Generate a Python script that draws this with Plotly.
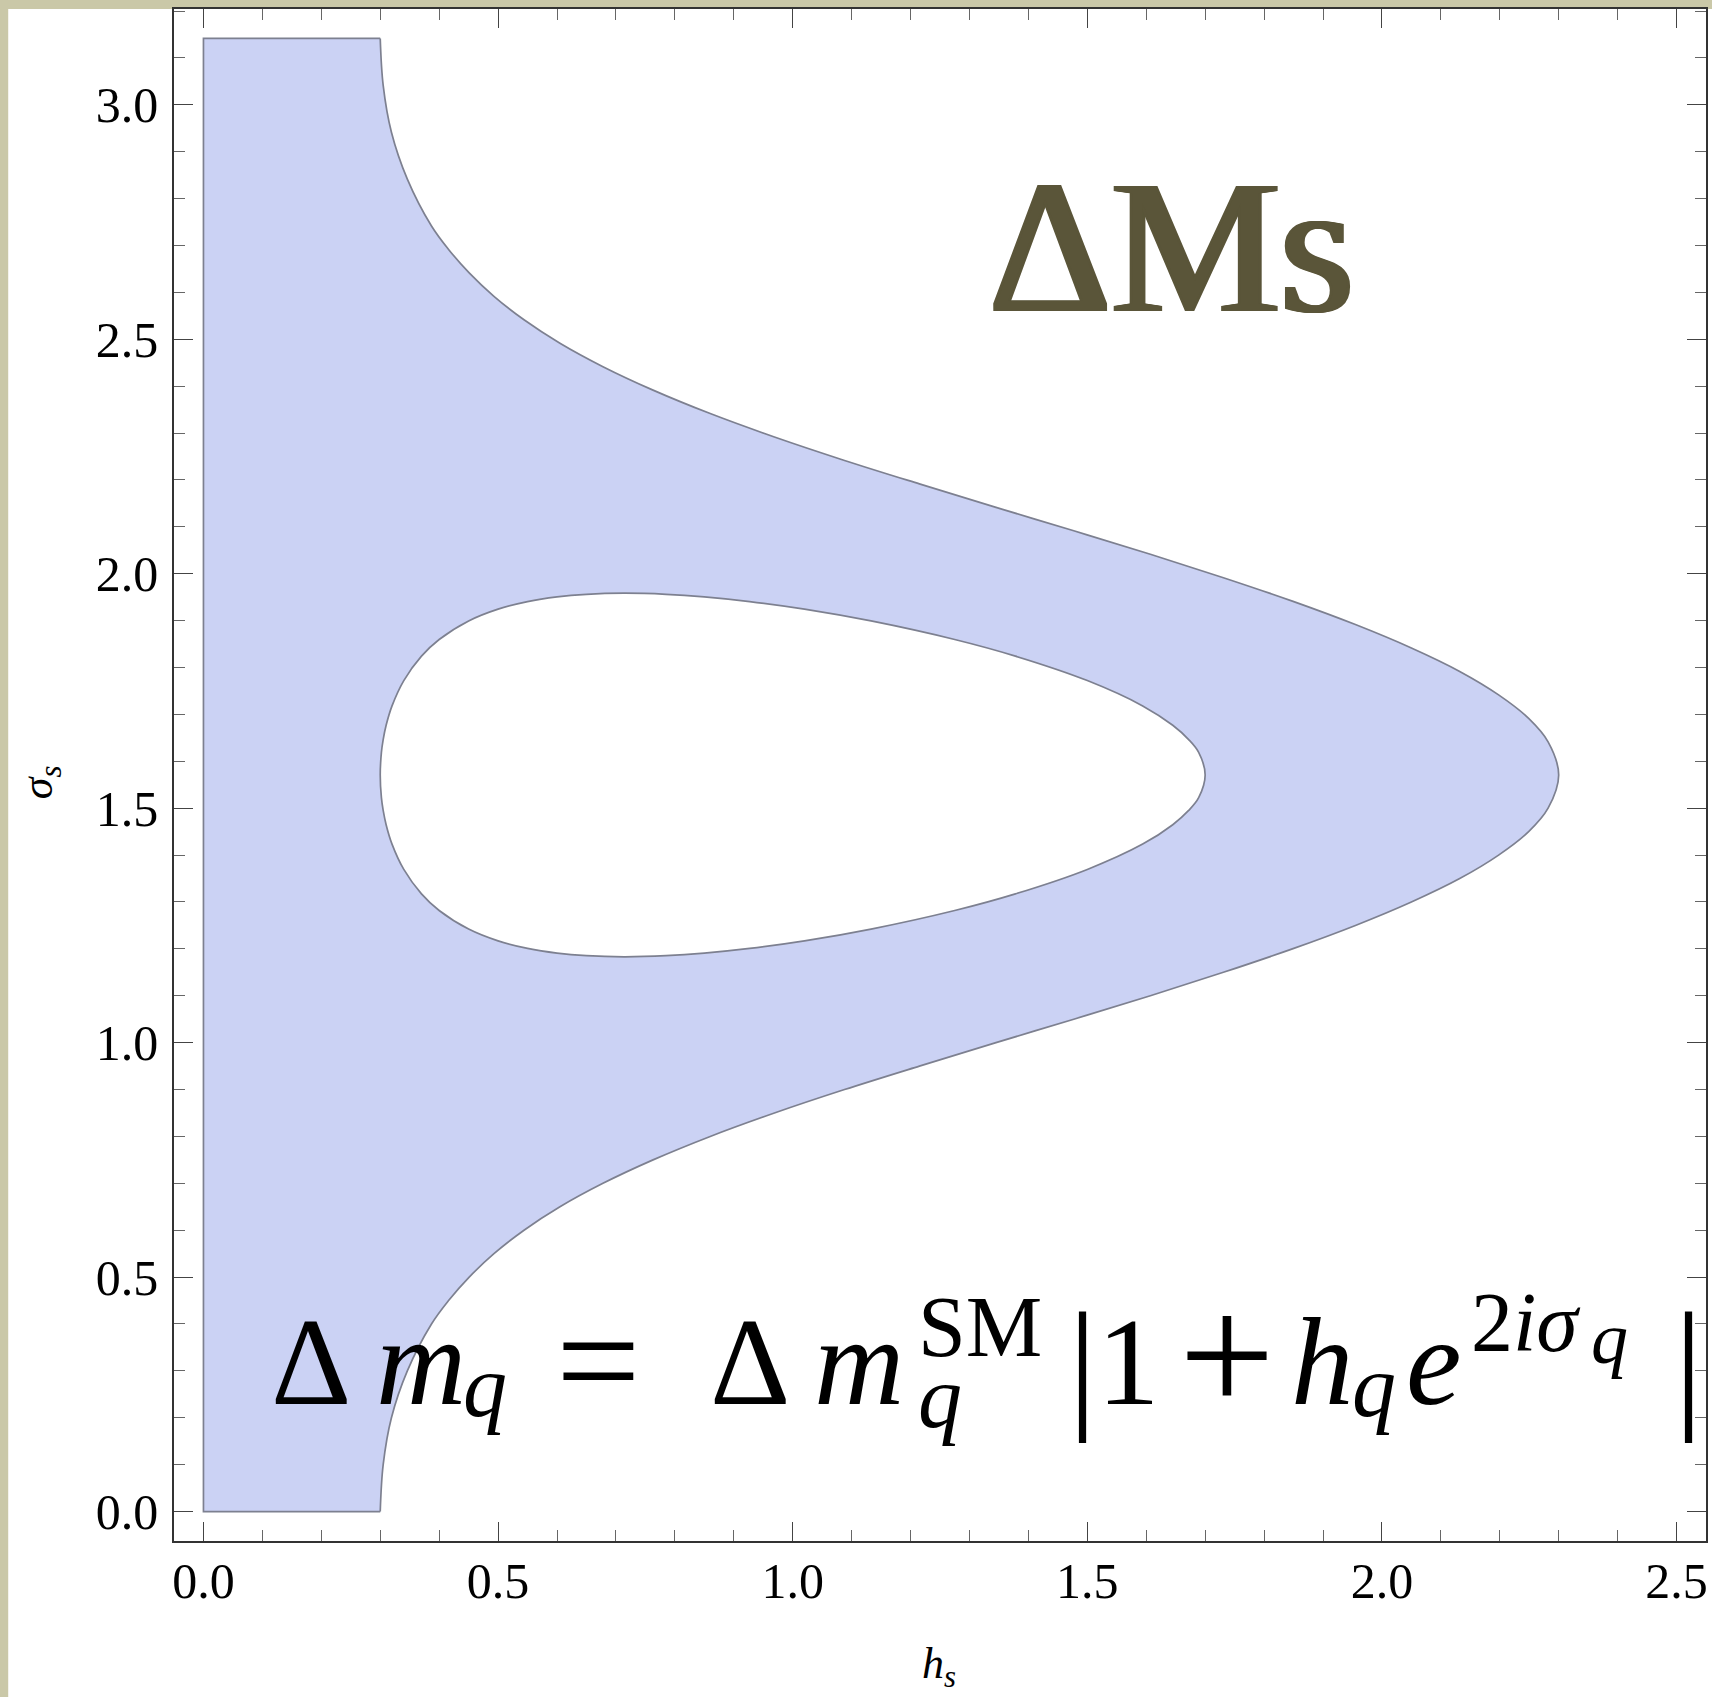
import plotly.graph_objects as go

# ---- data ----
# outer boundary of the allowed region, lower half (sigma_s from 0 to pi/2)
outer_sigma_lower = [0.0, 0.1, 0.2, 0.3, 0.4, 0.45, 0.5, 0.55, 0.6, 0.65, 0.7, 0.75, 0.8, 0.85, 0.9, 0.95,
                     1.0, 1.05, 1.1, 1.15, 1.2, 1.25, 1.3, 1.35, 1.4, 1.45, 1.5, 1.5708]
outer_h_lower = [0.300, 0.305, 0.319, 0.346, 0.387, 0.416, 0.451, 0.493, 0.544, 0.605, 0.678, 0.763, 0.860, 0.969, 1.088, 1.215,
                 1.345, 1.477, 1.607, 1.731, 1.848, 1.955, 2.050, 2.132, 2.198, 2.249, 2.282, 2.300]
# outer boundary, upper half (sigma_s from pi/2 to pi)
outer_sigma_upper = [1.5708, 1.6416, 1.6916, 1.7416, 1.7916, 1.8416, 1.8916, 1.9416, 1.9916, 2.0416, 2.0916, 2.1416, 2.1916, 2.2416,
                     2.2916, 2.3416, 2.3916, 2.4416, 2.4916, 2.5416, 2.5916, 2.6416, 2.6916, 2.7416, 2.8416, 2.9416, 3.0416, 3.1416]
outer_h_upper = [2.300, 2.282, 2.249, 2.198, 2.132, 2.050, 1.955, 1.848, 1.731, 1.607, 1.477, 1.345, 1.215, 1.088,
                 0.969, 0.860, 0.763, 0.678, 0.605, 0.544, 0.493, 0.451, 0.416, 0.387, 0.346, 0.319, 0.305, 0.300]

# straight edges of the region (left side h=0 and the two short caps)
edge_h = [0.300, 0.0, 0.0, 0.300]
edge_sigma = [0.0, 0.0, 3.1416, 3.1416]

# inner excluded loop (closed, starting at its lowest point)
inner_h = [0.714, 0.785, 0.850, 0.927, 1.020, 1.133, 1.275, 1.378, 1.500, 1.594, 1.645, 1.672, 1.689, 1.700,
           1.689, 1.672, 1.645, 1.594, 1.500, 1.378, 1.275, 1.133, 1.020, 0.927, 0.850, 0.785, 0.714,
           0.650, 0.600, 0.550, 0.500, 0.450, 0.400, 0.370, 0.340, 0.320, 0.310, 0.305, 0.302, 0.300,
           0.302, 0.305, 0.310, 0.320, 0.340, 0.370, 0.400, 0.450, 0.500, 0.550, 0.600, 0.650, 0.714]
inner_sigma = [1.1831, 1.1854, 1.1909, 1.2009, 1.2170, 1.2422, 1.2818, 1.3173, 1.3694, 1.4234, 1.4648, 1.4952, 1.5225, 1.5708,
               1.6191, 1.6464, 1.6768, 1.7182, 1.7722, 1.8243, 1.8598, 1.8994, 1.9246, 1.9407, 1.9507, 1.9562, 1.9585,
               1.9562, 1.9507, 1.9407, 1.9246, 1.8994, 1.8598, 1.8243, 1.7722, 1.7182, 1.6768, 1.6464, 1.6191, 1.5708,
               1.5225, 1.4952, 1.4648, 1.4234, 1.3694, 1.3173, 1.2818, 1.2422, 1.2170, 1.2009, 1.1909, 1.1854, 1.1831]

x_ticks = [0.0, 0.5, 1.0, 1.5, 2.0, 2.5]
x_ticklabels = ["0.0", "0.5", "1.0", "1.5", "2.0", "2.5"]
y_ticks = [0.0, 0.5, 1.0, 1.5, 2.0, 2.5, 3.0]
y_ticklabels = ["0.0", "0.5", "1.0", "1.5", "2.0", "2.5", "3.0"]

title_text = "ΔMs"
x_title = "<i>h</i><sub><i>s</i></sub>"
y_title = "<i>σ</i><sub><i>s</i></sub>"

# formula pieces: (text, centre x px, baseline px, font size px)
formula_pieces = [
    ("Δ", 311, 1405, 125),
    ("<i>m</i>", 421, 1405, 125),
    ("<i>q</i>", 485, 1417, 88),
    ("=", 599, 1412, 150),
    ("Δ", 751, 1405, 125),
    ("<i>m</i>", 860, 1405, 125),
    ("SM", 981, 1357, 86),
    ("<i>q</i>", 941, 1428, 88),
    ("|", 1084, 1413, 145),
    ("1", 1130, 1405, 125),
    ("+", 1228, 1413, 170),
    ("<i>h</i>", 1324, 1405, 125),
    ("<i>q</i>", 1376, 1417, 88),
    ("<i>e</i>", 1435, 1405, 125),
    ("2<i>iσ</i>", 1528, 1352, 84),
    ("<i>q</i>", 1611, 1364, 74),
    ("|", 1690, 1413, 145),
]

# ---- figure ----
W, H = 1712, 1697
ML, MR, MT, MB = 174, 4, 9, 156
PW, PH = W - ML - MR, H - MT - MB
SERIF = "Liberation Serif, Times New Roman, DejaVu Serif, serif"
FILL = "#cbd2f4"
EDGE = "#7d8090"
TITLE_C = "#5a5539"
DESC = 0.216  # font descent (fraction of em)


def paper_xy(px, py):
    return (px - ML) / PW, (H - MB - py) / PH


fig = go.Figure()
fig.add_trace(go.Scatter(x=outer_h_lower + outer_h_upper[1:], y=outer_sigma_lower + outer_sigma_upper[1:],
                         mode="lines", fill="tozerox", fillcolor=FILL,
                         line=dict(color=EDGE, width=1.7, shape="spline", smoothing=1.0),
                         hoverinfo="skip", showlegend=False))
fig.add_trace(go.Scatter(x=edge_h, y=edge_sigma, mode="lines",
                         line=dict(color=EDGE, width=1.7), hoverinfo="skip", showlegend=False))
fig.add_trace(go.Scatter(x=inner_h, y=inner_sigma, mode="lines", fill="toself", fillcolor="white",
                         line=dict(color=EDGE, width=1.7, shape="spline", smoothing=1.0),
                         hoverinfo="skip", showlegend=False))

axis_common = dict(showline=True, linecolor="#333333", linewidth=1.5, mirror="allticks",
                   ticks="inside", ticklen=19, tickwidth=1.3, tickcolor="#444444",
                   showgrid=False, zeroline=False,
                   tickfont=dict(family=SERIF, size=50, color="black"))
minor_common = dict(tick0=0, dtick=0.1, ticks="inside", ticklen=11, tickwidth=1.2, tickcolor="#666666", showgrid=False)

fig.update_xaxes(range=[-0.05, 2.55], tickvals=x_ticks, ticktext=x_ticklabels, minor=minor_common,
                 ticklabelstandoff=-5, **axis_common)
fig.update_yaxes(range=[-0.0628, 3.2044], tickvals=y_ticks, ticktext=y_ticklabels, minor=minor_common,
                 ticklabelstandoff=4, **axis_common)

annotations = []


def add_text(text, cx, base, size, color="black", weight="normal", shadow=None):
    xp, yp = paper_xy(cx, base + DESC * size)
    font = dict(family=SERIF, size=size, color=color, weight=weight)
    if shadow:
        font["shadow"] = shadow
    annotations.append(dict(x=xp, y=yp, xref="paper", yref="paper", text=text, showarrow=False,
                            xanchor="center", yanchor="bottom", borderpad=0, font=font))


title_shadow = ", ".join([f"{dx}px 0px 0px {TITLE_C}" for dx in (-3, -1.5, 1.5, 3)])
add_text(title_text, 1173, 312, 190, color=TITLE_C, shadow=title_shadow)
for t, cx, base, size in formula_pieces:
    add_text(t, cx, base, size)

xt = paper_xy(940, 1667)
annotations.append(dict(x=xt[0], y=xt[1], xref="paper", yref="paper", text=x_title, showarrow=False,
                        font=dict(family=SERIF, size=44, color="black"), xanchor="center", yanchor="middle"))
yt = paper_xy(40, 782)
annotations.append(dict(x=yt[0], y=yt[1], xref="paper", yref="paper", text=y_title, showarrow=False, textangle=-90,
                        font=dict(family=SERIF, size=44, color="black"), xanchor="center", yanchor="middle"))

KHAKI = "#cac8a8"
lx0, _ = paper_xy(-2, 0)
lx1, _ = paper_xy(8, 0)
_, ty0 = paper_xy(0, 9)
_, ty1 = paper_xy(0, -2)
_, by0 = paper_xy(0, H + 2)
rx1, _ = paper_xy(W + 2, 0)
shapes = [
    dict(type="rect", xref="paper", yref="paper", x0=lx0, x1=lx1, y0=by0, y1=ty1, fillcolor=KHAKI, line=dict(width=0), layer="below"),
    dict(type="rect", xref="paper", yref="paper", x0=lx0, x1=rx1, y0=ty0, y1=ty1, fillcolor=KHAKI, line=dict(width=0), layer="below"),
]

fig.update_layout(width=W, height=H, margin=dict(l=ML, r=MR, t=MT, b=MB),
                  paper_bgcolor="white", plot_bgcolor="white",
                  annotations=annotations, shapes=shapes, showlegend=False)

fig.write_html("out.html")
